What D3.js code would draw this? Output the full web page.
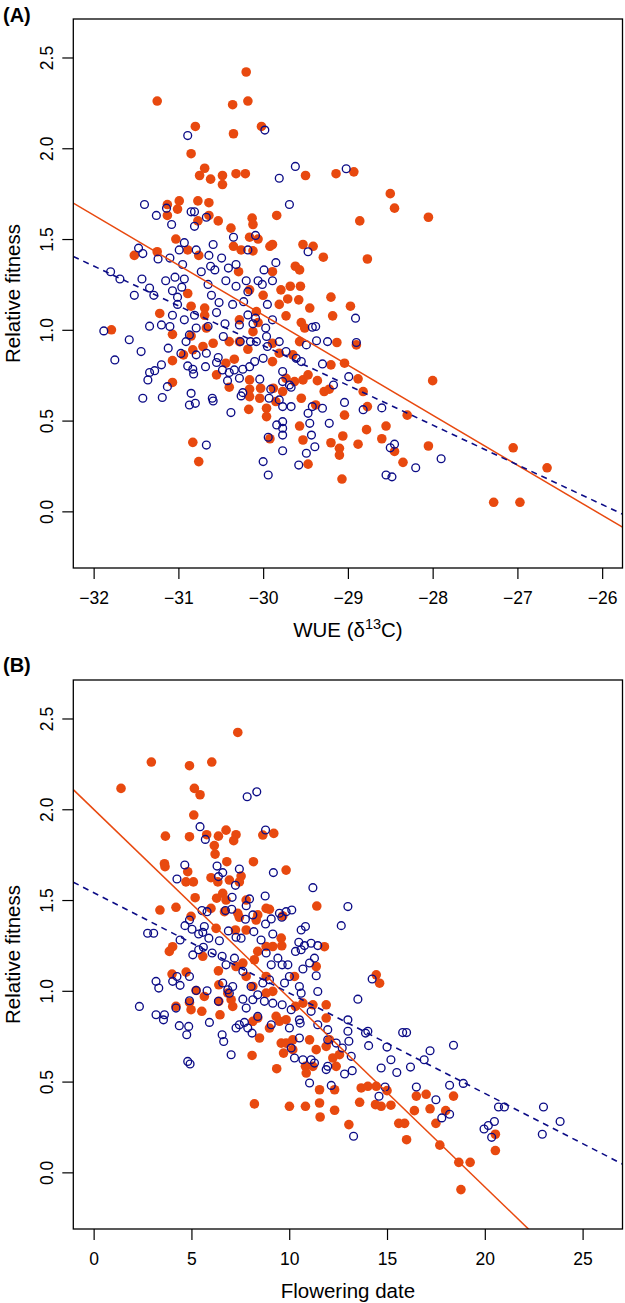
<!DOCTYPE html>
<html><head><meta charset="utf-8">
<script src="https://cdn.jsdelivr.net/npm/d3@7"></script>
<style>
html,body{margin:0;padding:0;background:#fff;}
text{font-family:"Liberation Sans",Arial,Helvetica,sans-serif;fill:#000;}
</style></head>
<body><svg id="chart" width="625" height="1303"></svg>
<script>
// ---------- DATA ----------
// Panel A : WUE (delta13C) vs relative fitness
const wueTicks = [-32, -31, -30, -29, -28, -27, -26];
const fitTicks = [0.0, 0.5, 1.0, 1.5, 2.0, 2.5];
const flowerTicks = [0, 5, 10, 15, 20, 25];

const wueOrange = [
[-30.20,2.42],[-31.25,2.26],[-30.36,2.24],[-30.18,2.26],[-30.80,2.12],[-30.02,2.12],[-30.35,2.08],[-30.85,1.97],[-30.69,1.89],[-30.75,1.85],[-30.62,1.83],[-30.48,1.85],[-30.48,1.80],[-30.32,1.86],[-30.21,1.86],[-29.50,1.85],[-29.14,1.86],[-28.93,1.87],[-30.99,1.71],[-31.13,1.69],[-31.01,1.665],[-31.13,1.63],[-30.77,1.71],[-30.64,1.70],[-30.64,1.63],[-30.77,1.60],[-30.53,1.60],[-30.13,1.615],[-30.12,1.58],[-29.84,1.63],[-28.86,1.60],[-30.38,1.56],[-31.03,1.50],[-30.89,1.44],[-31.25,1.43],[-31.52,1.41],[-30.76,1.41],[-30.35,1.46],[-30.26,1.44],[-30.16,1.51],[-30.06,1.50],[-29.92,1.46],[-29.89,1.47],[-30.12,1.435],[-29.53,1.47],[-29.41,1.46],[-29.29,1.40],[-28.77,1.39],[-29.62,1.35],[-29.57,1.33],[-29.89,1.32],[-30.29,1.32],[-29.79,1.22],[-29.68,1.24],[-29.56,1.24],[-29.71,1.17],[-29.58,1.165],[-29.45,1.12],[-29.20,1.18],[-28.97,1.13],[-30.89,1.20],[-30.00,1.19],[-30.16,1.22],
[-31.79,1.00],[-31.22,1.09],[-30.69,1.12],[-30.69,1.08],[-30.85,1.13],[-30.67,1.01],[-31.07,0.975],[-30.85,0.966],[-29.81,1.14],[-29.18,1.077],[-29.73,1.077],[-29.55,1.04],[-29.51,1.01],[-30.12,0.99],[-30.06,1.04],[-30.08,1.10],[-30.28,1.055],[-30.40,0.935],[-30.28,0.935],[-30.59,0.926],[-30.71,0.908],[-30.83,0.89],[-30.94,0.862],[-30.18,0.893],[-30.34,0.838],[-30.44,0.816],[-30.55,0.752],[-29.89,0.926],[-29.81,0.871],[-29.89,0.825],[-29.65,0.862],[-29.57,0.935],[-29.13,0.93],[-28.90,0.917],[-29.20,0.807],[-29.04,0.816],[-28.88,0.73],[-28.82,0.66],[-28.77,0.577],[-31.07,0.83],[-31.07,0.71],[-30.40,0.684],[-30.16,0.724],[-30.16,0.673],[-30.03,0.678],[-30.04,0.623],[-30.16,0.632],[-30.17,0.562],[-29.96,0.568],[-29.96,0.522],[-29.88,0.678],[-29.77,0.66],[-29.85,0.605],[-29.73,0.733],[-29.63,0.715],[-29.53,0.724],[-29.36,0.72],[-29.28,0.66],[-29.22,0.673],[-29.47,0.752],[-29.55,0.623],[-29.57,0.47],[-29.38,0.586],[-29.04,0.53],[-29.06,0.415],[-29.20,0.378],[-29.10,0.347],[-29.10,0.31],[-28.88,0.37],[-28.78,0.45],[-29.53,0.393],[-29.47,0.26],[-29.07,0.178],[-29.92,0.40],[-30.83,0.38],[-30.76,0.274],
[-28.50,1.75],[-28.45,1.67],[-28.05,1.62],[-28.00,0.72],[-28.55,0.47],[-28.30,0.53],[-28.45,0.33],[-28.35,0.27],[-28.05,0.36],[-27.05,0.35],[-26.65,0.24],[-27.28,0.05],[-26.97,0.05],[-28.60,0.40]
];

const wueBlue = [
[-30.89,2.07],[-29.98,2.10],[-29.62,1.90],[-29.81,1.835],[-29.02,1.887],[-29.69,1.69],[-31.40,1.69],[-31.14,1.67],[-31.26,1.63],[-31.08,1.58],[-30.85,1.65],[-30.81,1.65],[-30.67,1.62],[-30.81,1.57],[-30.35,1.51],[-30.09,1.52],[-30.18,1.44],[-29.47,1.43],[-29.85,1.37],[-30.93,1.48],[-30.59,1.47],[-30.99,1.44],[-30.79,1.44],[-31.47,1.45],[-31.42,1.42],[-31.24,1.39],[-31.10,1.395],[-31.80,1.32],[-31.69,1.28],[-31.43,1.28],[-31.52,1.19],[-31.34,1.23],[-31.29,1.19],[-30.64,1.41],[-30.49,1.395],[-30.95,1.36],[-30.41,1.34],[-30.32,1.36],[-30.62,1.35],[-30.57,1.33],[-30.73,1.32],[-29.99,1.33],[-30.93,1.28],[-31.04,1.29],[-31.15,1.27],[-30.44,1.27],[-30.20,1.27],[-30.06,1.27],[-29.89,1.27],[-30.32,1.24],[-30.01,1.25],[-30.65,1.25],[-31.07,1.215],[-30.96,1.235],[-30.61,1.19],[-30.52,1.15],[-30.36,1.14],[-30.23,1.155],[-30.18,1.21],[-31.01,1.18],[-31.01,1.14],[-29.95,1.14],
[-31.88,0.994],[-31.75,0.834],[-31.58,0.945],[-31.44,0.88],[-31.34,1.02],[-31.20,1.027],[-31.10,1.018],[-31.07,1.08],[-30.93,1.055],[-30.81,1.08],[-30.79,1.01],[-30.65,1.018],[-30.55,1.095],[-30.45,1.033],[-30.87,0.972],[-30.91,0.935],[-31.12,0.899],[-30.97,0.87],[-30.79,0.862],[-30.67,0.871],[-31.20,0.807],[-31.28,0.775],[-31.34,0.765],[-31.36,0.724],[-31.13,0.687],[-31.42,0.623],[-31.19,0.627],[-30.89,0.801],[-30.83,0.783],[-30.82,0.757],[-30.68,0.797],[-30.53,0.847],[-30.55,0.82],[-30.48,0.779],[-30.40,0.765],[-30.34,0.779],[-30.42,0.72],[-30.28,0.733],[-30.24,0.783],[-30.16,0.797],[-30.10,0.825],[-30.00,0.843],[-30.85,0.65],[-30.87,0.586],[-30.80,0.595],[-30.60,0.623],[-30.59,0.608],[-30.38,0.544],[-30.24,0.654],[-30.26,0.636],[-30.04,0.728],[-29.91,0.673],[-29.93,0.623],[-29.77,0.77],[-29.77,0.715],[-29.69,0.696],[-29.67,0.684],[-29.81,0.614],[-29.77,0.577],[-29.67,0.577],[-29.42,0.577],[-29.30,0.568],[-29.47,0.54],[-29.45,0.485],[-29.22,0.485],[-29.43,0.42],[-29.39,0.356],[-29.49,0.32],[-29.58,0.255],[-29.77,0.494],[-29.77,0.458],[-29.84,0.476],[-29.77,0.42],[-29.94,0.408],[-29.77,0.334],[-30.00,0.274],[-29.94,0.20],[-30.67,0.365],[-29.04,0.60],[-28.99,0.742],[-28.82,0.56],[-28.91,1.064],[-29.24,0.935],[-29.37,0.94],[-29.49,0.917],[-29.30,0.812],[-29.17,0.696],[-29.42,1.014],[-29.38,1.018],[-29.55,0.825],[-29.61,0.843],[-29.73,0.88],[-29.81,0.935],[-29.95,0.908],[-29.96,0.963],[-29.97,1.01],[-29.89,1.055],[-30.12,1.033],[-30.09,1.064],[-30.18,1.082],[-30.28,1.027],[-30.27,0.935],[-30.15,0.935],[-30.08,0.935],[-30.47,0.963],
[-28.60,0.57],[-28.45,0.37],[-28.50,0.35],[-28.55,0.20],[-28.48,0.19],[-28.20,0.24],[-27.90,0.29],[-28.90,0.93]
];

// Panel B : flowering date vs relative fitness
const flowerOrange = [
[7.37,2.423],[2.95,2.26],[4.90,2.24],[6.04,2.26],[1.40,2.115],[5.15,2.115],[5.44,2.08],[5.12,1.968],[3.67,1.852],[4.90,1.849],[5.78,1.86],[6.38,1.852],[6.77,1.885],[7.28,1.86],[7.16,1.827],[6.17,1.80],[6.21,1.753],[8.65,1.858],[9.21,1.867],[6.81,1.711],[8.17,1.711],[9.84,1.665],[3.62,1.70],[3.65,1.684],[4.81,1.656],[4.72,1.60],[5.10,1.60],[6.00,1.623],[6.35,1.60],[6.94,1.61],[7.54,1.632],[7.45,1.60],[5.19,1.513],[6.29,1.51],[6.60,1.537],[6.77,1.50],[3.39,1.445],[4.21,1.46],[6.00,1.454],[6.69,1.436],[7.37,1.427],[7.45,1.405],[7.80,1.50],[8.82,1.454],[8.99,1.449],[8.39,1.418],[8.31,1.39],[9.67,1.412],[11.41,1.467],[4.98,1.41],[6.26,1.344],[7.25,1.335],[7.80,1.335],[9.59,1.29],
[4.04,1.243],[11.80,1.243],[3.87,1.217],[5.58,1.19],[6.38,1.11],[4.01,1.092],[4.73,1.103],[5.24,1.002],[5.66,0.969],[4.90,0.936],[4.98,0.896],[4.21,0.914],[5.53,0.887],[6.40,0.942],[6.46,0.868],[6.40,1.033],[7.11,0.914],[6.86,0.987],[7.03,0.951],[7.28,1.134],[7.63,1.153],[7.80,1.079],[8.22,1.171],[8.39,1.217],[8.82,1.244],[9.16,1.244],[9.62,1.248],[8.82,1.079],[9.16,0.997],[8.82,0.987],[8.14,1.024],[8.39,0.85],[8.14,0.832],[9.33,0.859],[9.50,0.832],[9.84,0.841],[8.99,0.795],[8.48,0.74],[8.10,0.644],[9.36,0.571],[9.59,0.712],[9.84,0.712],[9.71,0.657],[10.18,0.676],[10.18,0.73],[10.27,1.079],[10.32,0.914],[10.70,0.932],[11.04,0.73],[11.38,0.676],[11.89,0.694],[11.89,0.85],[11.89,0.923],[11.38,1.134],[11.21,0.923],[10.83,0.584],[10.87,0.547],[11.21,0.584],[11.55,0.455],[11.55,0.382],[12.32,0.455],[12.32,0.342],[11.58,0.305],[10.83,0.364],[10.01,0.364],[8.22,0.377],[12.40,0.584],[12.23,0.63],[12.57,0.648],[12.06,0.73],[13.05,0.263],[13.60,0.386],[13.68,0.465],[14.02,0.474],[14.45,0.474],[14.41,0.373],[14.70,0.364],[14.45,1.088],[14.62,1.042],
[15.2,0.37],[15.6,0.27],[15.9,0.27],[16.0,0.18],[16.4,0.34],[16.5,0.42],[17.0,0.43],[17.2,0.35],[17.5,0.27],[17.7,0.15],[18.0,0.34],[18.4,0.42],[18.67,0.055],[19.25,0.055],[18.78,-0.095],[20.54,0.21],[20.54,0.12],[15.0,0.45]
];

const flowerBlue = [
[7.85,2.069],[8.34,2.096],[5.44,1.904],[8.79,1.886],[5.71,1.834],[4.66,1.693],[4.26,1.616],[6.31,1.687],[6.60,1.651],[6.38,1.629],[7.45,1.671],[9.19,1.651],[7.25,1.581],[11.21,1.568],[7.08,1.515],[7.97,1.506],[8.77,1.522],[7.80,1.469],[5.54,1.442],[5.80,1.436],[6.74,1.442],[7.06,1.449],[8.14,1.418],[7.76,1.394],[9.50,1.427],[9.84,1.436],[10.13,1.445],[13.00,1.464],[4.90,1.39],[4.67,1.359],[5.03,1.339],[9.08,1.396],[8.79,1.368],[9.62,1.405],[12.66,1.359],[10.61,1.335],[10.83,1.354],[2.76,1.317],[3.07,1.317],[5.37,1.313],[5.58,1.322],[5.66,1.354],[6.89,1.33],[8.19,1.326],[9.16,1.313],[4.42,1.28],[5.89,1.29],[6.43,1.276],[7.28,1.295],[7.54,1.29],[8.56,1.28],[10.49,1.267],[11.12,1.262],[11.46,1.249],[10.78,1.249],
[2.34,0.914],[3.19,1.052],[3.33,1.015],[3.19,0.868],[3.62,0.868],[3.57,0.84],[4.04,1.052],[4.26,1.079],[4.42,1.03],[4.21,0.905],[4.38,0.808],[4.86,0.804],[4.76,0.758],[4.81,0.611],[4.93,0.597],[4.90,1.079],[4.90,0.945],[5.24,1.002],[5.80,1.0],[5.92,0.826],[5.07,1.198],[5.37,1.226],[5.61,1.24],[6.06,1.208],[6.57,1.19],[6.38,0.942],[6.57,0.758],[6.65,0.721],[7.03,0.648],[6.60,1.043],[6.86,1.006],[6.94,0.987],[7.11,1.024],[6.77,1.143],[7.20,1.18],[7.63,1.107],[7.63,0.954],[7.80,0.905],[7.28,0.795],[7.45,0.813],[7.71,0.826],[7.88,0.795],[8.10,0.767],[8.05,1.024],[8.14,0.951],[8.39,0.978],[8.39,0.859],[8.73,0.942],[8.65,1.043],[8.99,1.061],[8.82,1.208],[9.08,1.143],[9.42,1.18],[9.64,1.143],[9.93,1.143],[9.16,0.932],[9.64,0.923],[9.08,0.813],[9.76,1.043],[10.01,1.079],[10.10,0.896],[10.52,1.024],[10.61,0.987],[10.52,0.84],[10.56,0.822],[10.01,0.795],[10.52,0.74],[10.10,0.685],[10.27,0.63],[10.70,0.62],[11.12,0.62],[11.29,0.602],[11.97,0.584],[11.89,0.566],[11.04,0.492],[12.15,0.479],[12.83,0.542],[13.22,0.56],[13.17,0.639],[13.29,0.199],[11.12,0.887],[11.46,0.813],[11.97,0.73],[11.97,0.786],[12.40,0.712],[12.71,0.685],[13.05,0.722],[13.00,0.84],[13.00,0.777],[13.51,0.954],[11.46,0.996],[11.38,1.083],[11.29,1.18],[11.04,1.153],[10.70,1.12],[10.32,1.217],[10.61,1.226],[14.24,1.065],[13.90,0.767],[14.02,0.777],[14.06,0.698],[14.59,0.419],[14.70,0.575],
[15.0,0.69],[15.2,0.62],[15.5,0.55],[15.8,0.77],[16.0,0.77],[16.2,0.58],[16.5,0.47],[16.9,0.62],[17.2,0.67],[17.5,0.40],[17.8,0.30],[18.2,0.48],[18.4,0.70],[18.9,0.49],[18.2,0.32],[19.96,0.239],[20.18,0.258],[20.35,0.193],[20.49,0.28],[20.7,0.36],[21.0,0.36],[22.94,0.21],[23.0,0.36],[23.85,0.28],[14.9,0.47]
];

// regression lines [intercept, slope]
const wueFitOrange = [1.698 - 0.2755 * 32.24, -0.2755];
const wueFitBlue = [1.404 - 0.219 * 32.24, -0.219];
const flowerFitOrange = [2.0, -0.104];
const flowerFitBlue = [1.541, -0.0553];

// ---------- DRAWING ----------
const ORANGE = "#E8490F";
const BLUE = "#0C0C86";
const svg = d3.select("#chart");
const left = 73.3, right = 622.5;
const FONT = '"Liberation Sans",Arial,Helvetica,sans-serif';

function panel(cfg) {
  const g = svg.append("g");
  const x = d3.scaleLinear().domain(cfg.xdom).range([left, right]);
  const y = d3.scaleLinear().domain([-0.312, 2.712]).range([cfg.bottom, cfg.top]);
  const clipId = "clip" + cfg.id;
  svg.append("clipPath").attr("id", clipId).append("rect")
    .attr("x", left).attr("y", cfg.top).attr("width", right - left).attr("height", cfg.bottom - cfg.top);

  // points
  g.append("g").selectAll("circle").data(cfg.orange).join("circle")
    .attr("cx", d => x(d[0])).attr("cy", d => y(d[1])).attr("r", 4.8)
    .attr("fill", ORANGE);
  g.append("g").selectAll("circle").data(cfg.blue).join("circle")
    .attr("cx", d => x(d[0])).attr("cy", d => y(d[1])).attr("r", 3.9)
    .attr("fill", "none").attr("stroke", BLUE).attr("stroke-width", 1.35);

  // regression lines
  const lg = g.append("g").attr("clip-path", `url(#${clipId})`);
  const [x0, x1] = x.domain();
  const lineGen = d3.line().x(d => x(d[0])).y(d => y(d[1]));
  lg.append("path").attr("d", lineGen([[x0, cfg.fitO[0] + cfg.fitO[1] * x0], [x1, cfg.fitO[0] + cfg.fitO[1] * x1]]))
    .attr("stroke", ORANGE).attr("stroke-width", 1.5).attr("fill", "none");
  lg.append("path").attr("d", lineGen([[x0, cfg.fitB[0] + cfg.fitB[1] * x0], [x1, cfg.fitB[0] + cfg.fitB[1] * x1]]))
    .attr("stroke", BLUE).attr("stroke-width", 1.6).attr("fill", "none").attr("stroke-dasharray", "6,5");

  // box
  g.append("rect").attr("x", left).attr("y", cfg.top).attr("width", right - left).attr("height", cfg.bottom - cfg.top)
    .attr("fill", "none").attr("stroke", "#000").attr("stroke-width", 1.3);

  // x axis
  const xa = g.append("g").attr("transform", `translate(0,${cfg.bottom})`)
    .call(d3.axisBottom(x).tickValues(cfg.xticks).tickSize(11).tickFormat(d3.format("d")));
  xa.select(".domain").remove();
  xa.selectAll(".tick line").attr("stroke", "#000").attr("stroke-width", 1.2);
  xa.selectAll(".tick text").attr("y", 36).attr("dy", null)
    .style("font-size", "17.5px").style("font-family", FONT).attr("fill", "#000");

  // y axis
  const ya = g.append("g").attr("transform", `translate(${left},0)`)
    .call(d3.axisLeft(y).tickValues(fitTicks).tickSize(11).tickFormat(d3.format(".1f")));
  ya.select(".domain").remove();
  ya.selectAll(".tick line").attr("stroke", "#000").attr("stroke-width", 1.2);
  ya.selectAll(".tick text").attr("x", null).attr("dy", null)
    .attr("transform", "translate(-20,0) rotate(-90)").attr("text-anchor", "middle")
    .style("font-size", "17.5px").style("font-family", FONT).attr("fill", "#000");

  // titles
  g.append("text").attr("transform", `translate(20,${(cfg.top + cfg.bottom) / 2}) rotate(-90)`)
    .attr("text-anchor", "middle").style("font-size", "20.5px").text("Relative fitness");
  const xt = g.append("text").attr("x", (left + right) / 2).attr("y", cfg.bottom + 69)
    .attr("text-anchor", "middle").style("font-size", "20.5px");
  cfg.xtitle(xt);
  g.append("text").attr("x", 3).attr("y", cfg.labelY).style("font-size", "20px").style("font-weight", "bold").text(cfg.label);
}

panel({
  id: "A", top: 19, bottom: 568, xdom: [-32.24, -25.76], xticks: wueTicks,
  orange: wueOrange, blue: wueBlue, fitO: wueFitOrange, fitB: wueFitBlue,
  label: "(A)", labelY: 22,
  xtitle: t => {
    t.append("tspan").text("WUE (\u03B4");
    t.append("tspan").attr("dy", -8).style("font-size", "14.5px").text("13");
    t.append("tspan").attr("dy", 8).text("C)");
  }
});
panel({
  id: "B", top: 680, bottom: 1229, xdom: [-1.04, 27.04], xticks: flowerTicks,
  orange: flowerOrange, blue: flowerBlue, fitO: flowerFitOrange, fitB: flowerFitBlue,
  label: "(B)", labelY: 672,
  xtitle: t => t.text("Flowering date")
});
</script></body></html>
